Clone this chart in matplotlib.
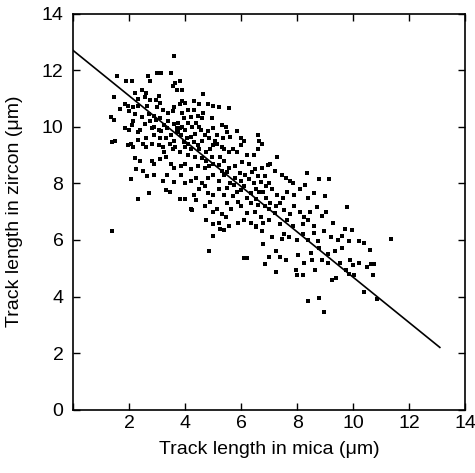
import matplotlib
matplotlib.use("Agg")
import matplotlib.pyplot as plt

plt.rcParams['font.family'] = ['Liberation Sans', 'DejaVu Sans']

# track lengths, grouped by zircon band (top to bottom)
mica = [
    # 11.5 - 12.5
    3.61, 1.55, 1.88, 2.12, 2.68, 2.73, 3.0, 3.15, 3.51, 3.65, 3.83, 3.57, 3.7, 3.88, 2.45, 2.6,
    # 10.5 - 11.5
    1.46, 2.2, 2.3, 2.57, 2.75, 2.95, 3.05, 3.1, 3.0, 1.67, 1.96, 1.84, 2.14, 2.32, 2.2, 3.2,
    3.4, 3.6, 3.55, 3.8, 3.9, 4.0, 4.1, 4.3, 4.5, 4.3, 4.65, 4.8, 5.0, 5.2, 5.55, 4.65,
    4.45, 3.9, 3.95, 4.2, 2.7, 2.9, 3.1, 2.65, 2.0,
    # 9.5 - 10.5
    1.37, 1.45, 1.4, 1.48, 1.85, 2.0, 2.1, 2.15, 2.3, 2.4, 2.6, 2.55, 2.75, 2.8, 2.9, 3.05,
    3.15, 3.3, 3.35, 3.5, 3.6, 3.7, 3.75, 3.85, 3.9, 4.0, 4.05, 4.2, 4.35, 4.5, 4.55, 4.6,
    4.7, 4.85, 4.8, 5.05, 5.15, 5.35, 5.5, 5.6, 5.85, 6.0, 6.1, 6.6, 6.65, 3.7, 3.8, 3.75,
    3.6, 3.4, 3.25, 2.95, 2.45, 3.1, 2.9, 2.3, 4.1, 4.25, 5.0, 5.3, 4.4, 4.95, 5.45,
    # 8.5 - 9.5
    1.95, 2.15, 2.05, 2.5, 2.6, 2.8, 3.05, 3.2, 3.25, 3.45, 3.65, 3.55, 3.8, 4.0, 4.1, 4.2,
    4.35, 4.5, 4.6, 4.75, 4.9, 5.0, 5.15, 5.3, 5.4, 5.55, 5.7, 5.85, 6.0, 6.2, 6.45, 6.6,
    6.75, 2.2, 2.4, 2.8, 2.9, 3.1, 3.3, 3.5, 3.6, 3.85, 4.0, 4.2, 4.45, 4.7, 4.85, 5.0,
    5.2, 5.4, 5.55, 5.8, 6.05, 6.3, 6.5, 6.75, 6.95, 7.05, 7.3, 4.1, 4.3, 4.6, 3.95, 4.45,
    4.75, 5.25, 4.95,
    # 7.5 - 8.5
    2.08, 2.25, 2.5, 2.65, 2.9, 3.21, 3.35, 3.6, 3.85, 4.0, 4.2, 4.4, 4.6, 4.8, 5.0, 5.2,
    5.4, 5.6, 5.8, 6.0, 6.1, 6.3, 6.45, 6.55, 6.7, 6.85, 7.0, 7.2, 7.45, 7.6, 7.75, 7.85,
    8.35, 8.3, 8.8, 9.15, 2.32, 2.7, 3.3, 3.45, 3.8, 4.0, 4.3, 4.5, 4.7, 4.8, 5.0, 5.2,
    5.4, 5.5, 5.7, 5.85, 6.0, 6.2, 6.35, 6.55, 6.8, 6.9, 7.1, 7.3, 7.5, 7.65, 7.9, 8.1,
    8.4, 8.6, 9.0, 5.5, 5.95, 6.15, 6.4, 6.6, 6.65, 6.9, 5.75, 5.3,
    # 6.5 - 7.5
    4.2, 4.25, 4.4, 4.7, 4.9, 5.0, 5.15, 5.3, 5.5, 5.65, 5.9, 6.0, 6.2, 6.35, 6.5, 6.7,
    6.85, 7.0, 7.2, 7.4, 7.55, 7.75, 7.9, 8.1, 8.25, 8.45, 8.7, 8.9, 9.05, 9.8, 4.75, 5.0,
    5.2, 5.45, 5.55, 5.9, 6.1, 6.35, 6.55, 6.8, 7.0, 7.4, 7.65, 7.85, 8.2, 8.4, 8.6, 9.3,
    9.7, 9.95, 7.05, 7.25, 6.6,
    # 5.5 - 6.5
    1.39, 5.0, 5.25, 5.4, 6.55, 6.75, 7.1, 7.45, 7.55, 7.7, 8.0, 8.2, 8.4, 8.6, 8.75, 8.95,
    9.2, 9.45, 9.6, 9.85, 10.2, 10.4, 11.35, 4.86, 6.8, 7.25, 7.4, 8.05, 8.5, 8.8, 9.1, 9.35,
    9.6, 10.6, 6.1, 6.2, 7.0,
    # 4.5 - 5.5
    6.85, 7.25, 7.6, 7.95, 8.0, 8.2, 8.25, 8.55, 8.65, 8.9, 9.1, 9.25, 9.4, 9.55, 9.75, 9.85,
    9.9, 10.0, 10.05, 10.2, 10.5, 10.65, 10.7, 10.75,
    # below 4.5
    8.4, 8.8, 8.95, 10.4, 10.85,
]
zircon = [
    # 11.5 - 12.5
    12.51, 11.8, 11.62, 11.62, 11.8, 11.62, 11.9, 11.9, 11.92, 11.56, 11.62, 11.45, 11.3, 11.3, 11.3, 11.2,
    # 10.5 - 11.5
    11.04, 11.21, 11.0, 11.05, 10.95, 10.95, 11.1, 10.85, 10.7, 10.62, 10.75, 10.8, 10.7, 10.75, 10.45, 10.6,
    10.5, 10.7, 10.55, 10.8, 10.9, 10.85, 10.6, 10.9, 10.8, 10.6, 11.15, 10.8, 10.75, 10.7, 10.65, 10.5,
    10.4, 10.5, 10.3, 10.35, 10.45, 10.4, 10.3, 10.75, 10.55,
    # 9.5 - 10.5
    10.33, 10.25, 9.45, 9.5, 9.95, 9.9, 10.05, 10.2, 9.8, 9.9, 9.6, 10.1, 10.2, 9.95, 10.0, 9.9,
    9.85, 9.6, 9.95, 9.7, 10.1, 9.95, 9.8, 9.7, 10.0, 9.9, 9.6, 9.65, 9.75, 10.0, 9.9, 10.3,
    9.7, 9.6, 9.85, 9.5, 9.7, 9.6, 9.8, 9.65, 9.85, 9.6, 9.5, 9.7, 9.5, 9.85, 9.95, 10.15,
    9.5, 10.2, 10.05, 10.25, 10.35, 9.6, 9.7, 9.55, 10.15, 10.0, 9.95, 10.05, 10.15, 10.3, 10.0,
    # 8.5 - 9.5
    9.35, 9.3, 9.4, 9.4, 9.3, 9.4, 9.35, 9.3, 9.1, 9.4, 9.3, 9.2, 9.1, 9.3, 9.0, 9.2,
    8.95, 9.2, 8.9, 8.8, 9.2, 9.35, 9.4, 9.3, 9.2, 9.1, 9.2, 9.1, 9.35, 9.0, 9.0, 9.2,
    9.4, 8.9, 8.8, 8.8, 8.7, 8.85, 8.95, 8.7, 8.55, 8.6, 8.7, 8.5, 8.6, 8.55, 8.6, 8.7,
    8.65, 8.8, 8.55, 8.6, 8.75, 8.7, 8.5, 8.55, 8.65, 8.7, 8.95, 9.4, 9.45, 9.5, 9.45, 9.35,
    9.1, 8.95, 8.95,
    # 7.5 - 8.5
    8.15, 8.5, 8.45, 8.25, 8.3, 8.09, 8.3, 8.05, 8.3, 8.0, 8.1, 8.2, 8.0, 8.2, 8.3, 8.1,
    8.3, 8.0, 8.2, 8.1, 7.9, 8.15, 8.0, 7.8, 8.05, 8.25, 8.0, 8.45, 8.3, 8.2, 8.1, 8.0,
    8.35, 7.95, 8.15, 8.15, 7.44, 7.66, 7.75, 7.7, 7.45, 7.45, 7.6, 7.8, 7.9, 7.65, 7.6, 7.8,
    7.6, 7.85, 7.55, 7.7, 7.75, 7.5, 7.65, 7.45, 7.7, 7.5, 7.8, 7.6, 7.5, 7.7, 7.6, 7.8,
    7.5, 7.65, 7.55, 8.4, 8.35, 8.3, 8.4, 8.25, 7.7, 7.9, 7.95, 8.45,
    # 6.5 - 7.5
    7.1, 7.05, 7.4, 7.2, 7.35, 7.0, 7.1, 6.9, 7.3, 7.1, 7.35, 7.2, 6.95, 7.3, 7.0, 6.8,
    7.2, 7.1, 6.95, 7.3, 7.05, 6.9, 7.2, 7.0, 6.8, 7.0, 7.15, 6.85, 7.0, 7.15, 6.7, 6.55,
    6.6, 6.8, 6.5, 6.6, 6.7, 6.6, 6.5, 6.6, 6.7, 6.55, 6.7, 6.5, 6.55, 6.7, 6.5, 6.6,
    6.4, 6.35, 7.3, 7.2, 7.25,
    # 5.5 - 6.5
    6.32, 6.15, 6.4, 6.35, 6.45, 6.3, 6.1, 6.05, 6.2, 6.1, 6.0, 6.2, 6.0, 6.25, 5.95, 6.3,
    6.1, 6.0, 6.15, 5.95, 5.95, 5.9, 6.05, 5.61, 5.85, 5.6, 5.4, 5.45, 5.55, 5.7, 5.5, 5.6,
    5.7, 5.65, 5.35, 5.35, 5.4,
    # 4.5 - 5.5
    5.15, 4.85, 5.3, 4.95, 4.75, 4.75, 5.2, 5.3, 4.95, 5.3, 5.2, 4.6, 4.65, 5.2, 4.95, 4.8,
    5.3, 5.1, 4.75, 5.2, 5.05, 5.15, 4.75, 5.15,
    # below 4.5
    3.85, 3.95, 3.45, 4.15, 3.9,
]

# regression line end points
line_x = [0.0, 13.1]
line_y = [12.7, 2.2]

fig = plt.figure(figsize=(4.75, 4.73), dpi=100)
ax = fig.add_axes([0.154, 0.134, 0.825, 0.837])

ax.scatter(mica, zircon, s=9, marker='s', color='black', linewidths=0)
ax.plot(line_x, line_y, color='black', lw=1.2)

ax.set_xlim(0, 14)
ax.set_ylim(0, 14)
ax.set_xticks(range(0, 15, 2))
ax.set_yticks(range(0, 15, 2))
ax.set_xticklabels(['', '2', '4', '6', '8', '10', '12', '14'])
ax.tick_params(direction='in', length=5, width=1, top=True, right=True, labelsize=14)
ax.tick_params(axis='y', pad=7)
ax.tick_params(axis='x', pad=4)
for sp in ax.spines.values():
    sp.set_linewidth(1.2)

ax.set_xlabel('Track length in mica (\u03bcm)', fontsize=14, labelpad=6)
ax.set_ylabel('Track length in zircon (\u03bcm)', fontsize=14, labelpad=13)

fig.savefig('out.png', dpi=100)
